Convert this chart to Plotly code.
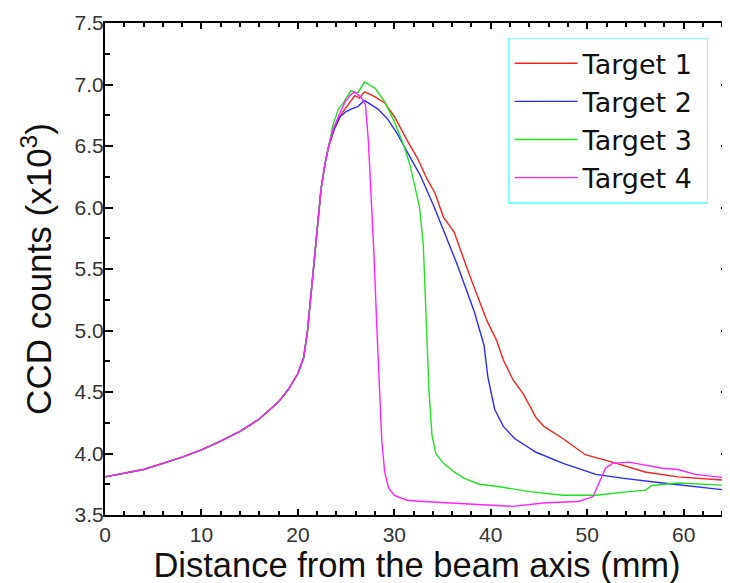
import plotly.graph_objects as go

# Common rising edge (all targets overlap here)
rise_x = [0, 2, 4, 6, 8, 10, 12, 14, 16, 18, 19, 20, 20.6, 21.0, 21.4, 21.8, 22.1, 22.4, 22.8, 23.2]
rise_y = [3.81, 3.84, 3.87, 3.92, 3.97, 4.03, 4.10, 4.18, 4.28, 4.42, 4.52, 4.65, 4.78, 5.00, 5.32, 5.60, 5.90, 6.15, 6.35, 6.50]

t1_x = [23.8, 24.5, 25.3, 25.9, 26.4, 26.9, 27.5, 28.0, 29.0, 30.0, 31.3, 32.4, 33.4, 34.2, 35.1, 36.2, 37.8,
        39.6, 40.6, 41.3, 42.3, 43.4, 44.7, 45.5, 47.5, 49.8, 52.6, 56.0, 59.4, 64.7]
t1_y = [6.66, 6.76, 6.85, 6.91, 6.89, 6.94, 6.92, 6.90, 6.85, 6.74, 6.55, 6.40, 6.23, 6.12, 5.92, 5.80, 5.45,
        5.08, 4.92, 4.76, 4.60, 4.48, 4.29, 4.22, 4.12, 3.99, 3.93, 3.85, 3.81, 3.78]

t2_x = [23.8, 24.4, 25.0, 25.5, 26.2, 26.9, 27.5, 28.3, 29.3, 30.3, 31.7, 32.7, 34.1, 35.1, 36.5, 38.3, 39.3,
        39.7, 40.4, 41.3, 42.5, 44.7, 47.5, 50.9, 53.6, 57.8, 61.2, 64.7]
t2_y = [6.64, 6.74, 6.78, 6.80, 6.82, 6.87, 6.84, 6.80, 6.72, 6.60, 6.40, 6.26, 6.01, 5.81, 5.54, 5.15, 4.88,
        4.62, 4.36, 4.22, 4.12, 4.01, 3.92, 3.83, 3.80, 3.76, 3.73, 3.70]

t3_x = [23.6, 24.2, 24.8, 25.5, 26.2, 26.9, 28.0, 29.0, 30.0, 31.0, 31.6, 32.1, 32.6, 33.0, 33.3, 33.6, 33.9,
        34.3, 35.1, 36.2, 37.2, 38.8, 40.9, 44.0, 47.5, 50.9, 54.3, 56.0, 56.7, 59.4, 64.7]
t3_y = [6.66, 6.80, 6.86, 6.95, 6.93, 7.02, 6.97, 6.86, 6.70, 6.50, 6.35, 6.18, 6.01, 5.70, 5.10, 4.50, 4.15,
        4.00, 3.92, 3.85, 3.80, 3.75, 3.73, 3.69, 3.66, 3.66, 3.69, 3.70, 3.74, 3.76, 3.74]

t4_x = [23.6, 24.3, 24.9, 25.5, 25.9, 26.5, 27.0, 27.3, 27.6, 27.9, 28.2, 28.5, 28.7, 29.0, 29.4, 30.0, 31.3,
        33.0, 35.5, 39.6, 42.3, 45.7, 49.1, 50.6, 51.2, 51.9, 52.6, 54.3, 57.8, 59.4, 61.2, 64.7]
t4_y = [6.62, 6.76, 6.86, 6.92, 6.94, 6.90, 6.84, 6.55, 6.10, 5.60, 5.00, 4.50, 4.10, 3.85, 3.72, 3.66, 3.62,
        3.61, 3.60, 3.58, 3.57, 3.60, 3.61, 3.65, 3.76, 3.88, 3.92, 3.93, 3.88, 3.87, 3.83, 3.80]

names = ["Target 1", "Target 2", "Target 3", "Target 4"]
colors = ["#ff2020", "#2a2aff", "#22e022", "#ff22ff"]
series = [(t1_x, t1_y), (t2_x, t2_y), (t3_x, t3_y), (t4_x, t4_y)]

fig = go.Figure()
for name, col, (sx, sy) in zip(names, colors, series):
    fig.add_trace(go.Scatter(x=rise_x + sx, y=rise_y + sy, mode="lines", name=name + "\u00a0",
                             line=dict(color=col, width=1.4)))

FONT = "Liberation Sans, Arial"
axis_common = dict(showline=True, linecolor="black", linewidth=2, mirror="ticks", automargin=False,
                   ticks="inside", tickcolor="black", tickwidth=2, showgrid=False, zeroline=False,
                   tickfont=dict(family=FONT, size=21, color="#333"))

fig.update_xaxes(range=[0, 64.7], dtick=10, ticklen=6,
                 minor=dict(ticks="inside", dtick=2, ticklen=4, tickcolor="black", tickwidth=2),
                 title=dict(text="Distance from the beam axis (mm)", standoff=0,
                            font=dict(family=FONT, size=34.5, color="#111")),
                 **axis_common)
fig.update_yaxes(range=[3.5, 7.5], dtick=0.5, tickformat=".1f", ticklen=8, ticklabelstandoff=-5,
                 minor=dict(ticks="inside", dtick=0.25, ticklen=5, tickcolor="black", tickwidth=2),
                 title=dict(text="CCD counts (x10<sup>3</sup>)", standoff=12,
                            font=dict(family=FONT, size=35, color="#111")),
                 **axis_common)

# the page body adds an 8px offset; margins compensate for it
fig.update_layout(
    width=730, height=583,
    margin=dict(l=97, r=9, t=15, b=76),
    plot_bgcolor="white", paper_bgcolor="white",
    legend=dict(x=0.646, y=0.97, xanchor="left", yanchor="top",
                bordercolor="#80ffff", borderwidth=1.5, bgcolor="white",
                font=dict(family="DejaVu Sans", size=27, color="#111"),
                itemwidth=63, tracegroupgap=0),
)

fig.write_html("out.html")
